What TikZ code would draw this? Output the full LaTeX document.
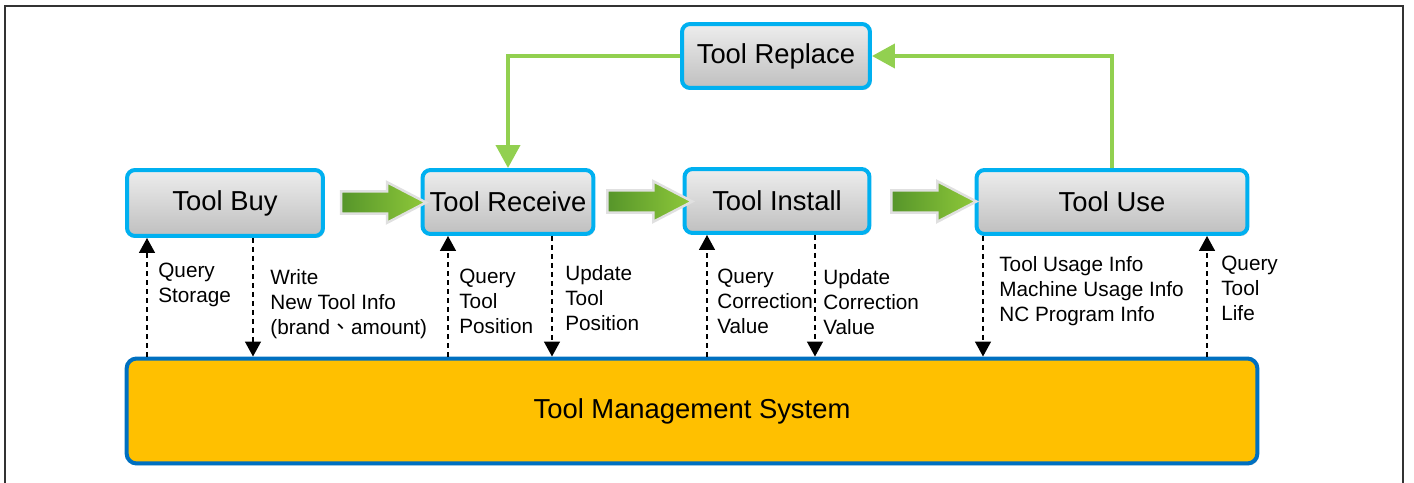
\documentclass[tikz,border=0pt]{standalone}
\usepackage{fontspec}
\setmainfont{Liberation Sans}
\newfontfamily\cjk{Noto Sans CJK TC}
\usetikzlibrary{arrows.meta,shapes.arrows,shadows}
\definecolor{stageblue}{HTML}{00B0F0}
\definecolor{tmsblue}{HTML}{0070C0}
\definecolor{tmsfill}{HTML}{FFC000}
\definecolor{loopgreen}{HTML}{92D050}
\definecolor{flowdark}{HTML}{56952A}
\definecolor{flowlight}{HTML}{8FC93A}
\tikzset{
  stage/.style={draw=stageblue, line width=0.08cm, rounded corners=0.16cm,
    top color=black!7, bottom color=black!25, minimum height=1.28cm,
    font=\fontsize{15.6}{18}\selectfont,
    drop shadow={opacity=0.3, shadow xshift=0.03cm, shadow yshift=-0.04cm}},
  system/.style={draw=tmsblue, line width=0.08cm, rounded corners=0.2cm,
    fill=tmsfill, font=\fontsize{15.6}{18}\selectfont,
    drop shadow={opacity=0.3, shadow xshift=0.03cm, shadow yshift=-0.04cm}},
  flow/.style={single arrow, draw=black!12, line width=0.05cm,
    left color=flowdark, right color=flowlight, inner sep=0.2cm,
    minimum height=1.7cm, minimum width=0.76cm,
    single arrow head extend=0.18cm, single arrow tip angle=55},
  loop/.style={draw=loopgreen, line width=0.08cm,
    -{Triangle[width=0.48cm,length=0.46cm]}},
  dataline/.style={draw, line width=0.03cm, dash pattern=on 0.1cm off 0.08cm,
    -{Triangle[width=0.32cm,length=0.3cm]}},
  info/.style={anchor=north west, inner sep=0pt, align=left,
    font=\fontsize{11.8}{14.2}\selectfont}
}
\begin{document}
\begin{tikzpicture}[x=0.02cm, y=-0.02cm]
  \useasboundingbox (0,0) rectangle (1414,483);
  \draw[black!80, line width=0.05cm] (5,483) -- (5,6) -- (1403,6) -- (1403,483);
  \def \Stages{
    buy/225/203/3.92/1.32/Tool Buy,
    receive/508/202/3.42/1.28/Tool Receive,
    install/777/201/3.70/1.28/Tool Install,
    use/1112/202/5.42/1.28/Tool Use,
    replace/776/56/3.76/1.28/Tool Replace}
  \foreach \id / \x / \y / \w / \h / \txt in \Stages{
    \node[stage, minimum width=\w cm, minimum height=\h cm] (\id) at (\x, \y) {\txt};
  }
  \node[system, minimum width=22.62cm, minimum height=2.1cm] (tms) at (692, 411)
    {Tool Management System};
  % flow between stages
  \path (buy.east) -- (receive.west) node[midway, flow] (f1) {};
  \path (receive.east) -- (install.west) node[midway, flow] (f2) {};
  \path (install.east) -- (use.west) node[midway, flow] (f3) {};
  \path[loop] (replace.west) -| (receive.north);
  \path[loop] (use.north) |- (replace.east);
  % data exchange with the system
  \foreach \x / \src in {147/buy, 448/receive, 707/install, 1207/use}{
    \path[dataline] (\x,0 |- tms.north) -- (\x,0 |- \src.south);
  }
  \foreach \x / \src in {253/buy, 552/receive, 815/install, 983/use}{
    \path[dataline] (\x,0 |- \src.south) -- (\x,0 |- tms.north);
  }
  \node[info] (l1) at (158, 263) {Query\\Storage};
  \node[info] (l2) at (270, 269) {Write\\New Tool Info\\(brand{\cjk 、}amount)};
  \node[info] (l3) at (459, 269) {Query\\Tool\\Position};
  \node[info] (l4) at (565, 265) {Update\\Tool\\Position};
  \node[info] (l5) at (717, 269) {Query\\Correction\\Value};
  \node[info] (l6) at (823, 269) {Update\\Correction\\Value};
  \node[info] (l7) at (999, 256) {Tool Usage Info\\Machine Usage Info\\NC Program Info};
  \node[info] (l8) at (1221, 256) {Query\\Tool\\Life};
\end{tikzpicture}
\end{document}
